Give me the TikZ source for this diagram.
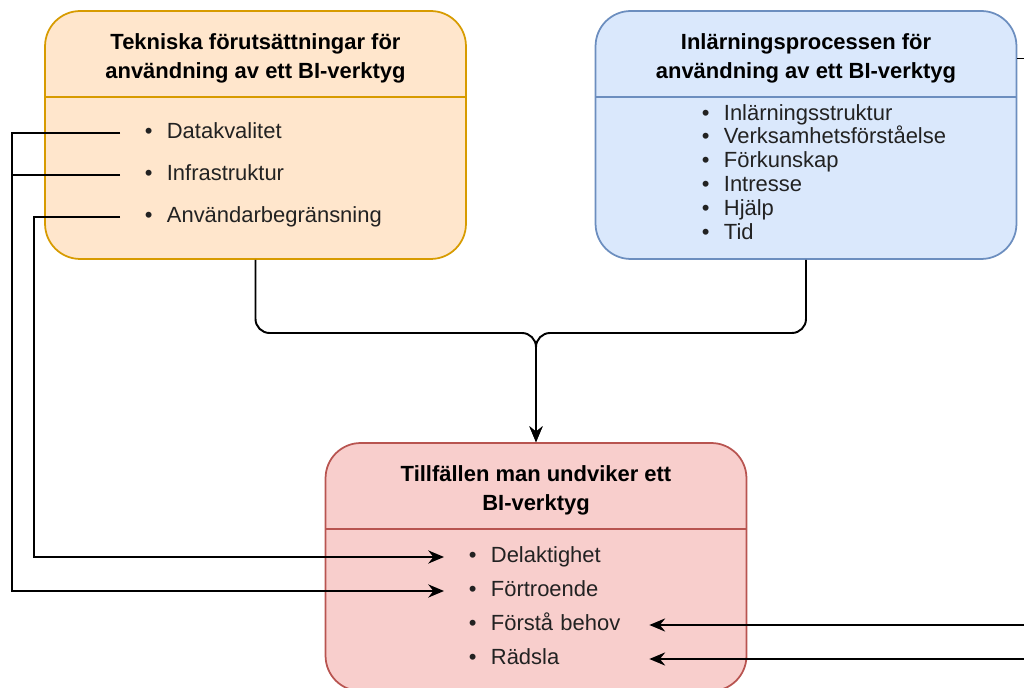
\documentclass[tikz,border=0pt]{standalone}
\usepackage{fontspec}
\setmainfont{Liberation Sans}
\usetikzlibrary{arrows.meta, positioning}
\definecolor{techfill}{HTML}{FFE6CC}
\definecolor{techline}{HTML}{D79B00}
\definecolor{learnfill}{HTML}{DAE8FC}
\definecolor{learnline}{HTML}{6C8EBF}
\definecolor{avoidfill}{HTML}{F8CECC}
\definecolor{avoidline}{HTML}{B85450}
\definecolor{itemtext}{HTML}{222222}
\newcommand{\bul}[1]{\makebox[12.5pt][l]{\textbullet}#1}
\tikzset{>={Stealth[length=9pt,width=7.5pt,inset=3pt]}}
\tikzset{font=\fontsize{12.5}{16.4}\selectfont}
\tikzset{box/.style={draw, line width=1pt, rounded corners=20pt,
    minimum width=8.42cm, minimum height=4.96cm},
  boxtitle/.style={font=\fontsize{12.5}{16.4}\selectfont\bfseries,
    align=center, minimum width=8.42cm, minimum height=1.72cm, anchor=north,
    yshift=-0.1cm},
  divider/.style={line width=1pt},
  item/.style={anchor=west, inner xsep=14pt, inner ysep=0pt, align=left,
    text height=9pt, text depth=3pt, text=itemtext},
  conn/.style={line width=1.1pt}}

\begin{document}
\begin{tikzpicture}[x=0.02cm, y=-0.02cm]
  \useasboundingbox (0,0) rectangle (1024,688);
  % the three containers
  \node[box, draw=techline, fill=techfill] (tech) at (255.5,135) {};
  \node[box, draw=learnline, fill=learnfill] (learn) at (806,135) {};
  \node[box, draw=avoidline, fill=avoidfill] (avoid) at (536,567) {};

  \node[boxtitle] (thead) at (tech.north) {Tekniska förutsättningar för\\användning av ett BI-verktyg};
  \node[boxtitle] (lhead) at (learn.north) {Inlärningsprocessen för\\användning av ett BI-verktyg};
  \node[boxtitle] (ahead) at (avoid.north) {Tillfällen man undviker ett\\BI-verktyg};
  \draw[divider, techline] ([yshift=0.1cm]thead.south west) -- ([yshift=0.1cm]thead.south east);
  \draw[divider, learnline] ([yshift=0.1cm]lhead.south west) -- ([yshift=0.1cm]lhead.south east);
  \draw[divider, avoidline] ([yshift=0.1cm]ahead.south west) -- ([yshift=0.1cm]ahead.south east);

  % lists
  \foreach \nm/\txt [count=\i] in {dk/Datakvalitet, is/Infrastruktur, ab/Användarbegränsning}
    \node[item] (\nm) at (120, 91+42*\i) {\bul{\txt}};
  \foreach \txt [count=\i] in {Inlärningsstruktur, Verksamhetsförståelse, Förkunskap, Intresse, Hjälp, Tid}
    \node[item] (li\i) at (677, 91+23.8*\i) {\bul{\txt}};
  \foreach \nm/\txt [count=\i] in {dl/Delaktighet, ft/Förtroende, fb/Förstå behov, rd/Rädsla}
    \node[item, text width=3.11cm] (\nm) at (444, 523+34*\i) {\bul{\txt}};

  % connectors
  \coordinate (join) at (536,333);
  \coordinate (lrail) at (12,0);
  \coordinate (lrailb) at (34,0);
  \coordinate (rrail) at (1040,0);
  \draw[conn, ->, rounded corners=8pt] (tech.south) |- (join) -- (avoid.north);
  \draw[conn, ->, rounded corners=8pt] (learn.south) |- (join) -- (avoid.north);
  \draw[conn, ->] (dk.west) -- (dk.west -| lrail) |- (ft.west);
  \draw[conn] (is.west) -- (is.west -| lrail);
  \draw[conn, ->] (ab.west) -- (ab.west -| lrailb) |- (dl.west);
  \draw[conn, ->] (lhead.east) -- (lhead.east -| rrail) |- (fb.east);
  \draw[conn, ->] (lhead.east -| rrail) |- (rd.east);
\end{tikzpicture}
\end{document}
